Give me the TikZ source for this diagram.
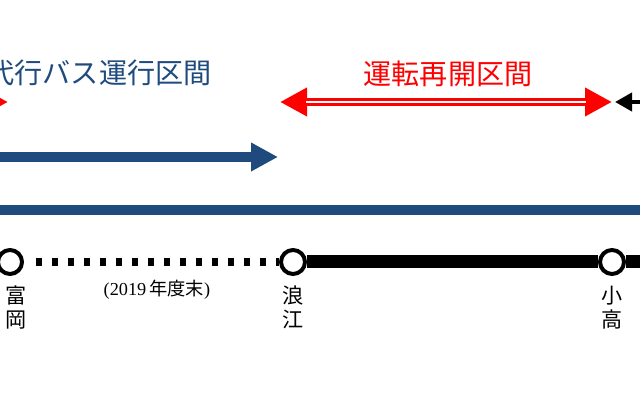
\documentclass[tikz,border=0pt]{standalone}
\usepackage{fontspec}
\newfontfamily\jpfont{Noto Sans CJK JP}
\newfontfamily\numfont{Liberation Serif}
\usepackage{tikz}
\usetikzlibrary{arrows.meta,positioning}
\definecolor{busblue}{HTML}{1F4A7E}
\definecolor{resumered}{HTML}{FF0000}

\begin{document}
\begin{tikzpicture}[
  title/.style={font=\jpfont\fontsize{20}{24}\selectfont,inner sep=0pt},
  station/.style={circle,draw=black,fill=white,line width=1mm,minimum size=6mm,inner sep=0pt},
  stname/.style={font=\jpfont\fontsize{15}{17}\selectfont,align=center,inner sep=0pt},
  bigtip/.tip={Triangle[length=6.75mm,width=6.75mm]},
]
\clip (0,0) rectangle (16,10);

% ===================================================================
% Section titles
% ===================================================================
\node[title,text=busblue] (bustitle) at (2.475,8.175) {代行バス運行区間};
\node[title,text=resumered] (resumetitle) at (11.2,8.15) {運転再開区間};

% ===================================================================
% Span arrows
% ===================================================================
\coordinate (prevL) at (-2.5,7.45);
\coordinate (prevR) at (0.2,7.45);
\coordinate (resumeL) at (7.0,7.45);
\coordinate (resumeR) at (15.3,7.45);
\coordinate (nextL) at (15.375,7.45);
\coordinate (nextR) at (17,7.45);

% red double arrows (outer red, white core)
\draw[resumered,line width=2mm,{bigtip}-{bigtip}] (prevL) -- (prevR);
\draw[white,line width=0.5mm,shorten >=6.5mm] (prevL) -- (prevR);
\draw[resumered,line width=2mm,{bigtip}-{bigtip}] (resumeL) -- (resumeR);
\draw[white,line width=0.5mm,shorten <=6.5mm,shorten >=6.5mm] (resumeL) -- (resumeR);

% black arrow at right edge
\draw[line width=1mm,{Triangle[length=4.25mm,width=4.5mm]}-] (nextL) -- (nextR);

% bus arrow and bus line
\coordinate (busL) at (-1,6.075);
\coordinate (busR) at (6.95,6.075);
\draw[busblue,line width=2.5mm,-{bigtip}] (busL) -- (busR);
\coordinate (routeL) at (-1,4.75);
\coordinate (routeR) at (17,4.75);
\draw[busblue,line width=2.5mm] (routeL) -- (routeR);

% ===================================================================
% Rail line and stations
% ===================================================================
\node[station] (tomioka) at (0.25,3.45) {};
\node[station] (namie) at (7.325,3.45) {};
\node[station] (odaka) at (15.3,3.45) {};
\coordinate (railR) at (17,3.45);

\draw[line width=2mm,dash pattern=on 1.6mm off 2.4mm,shorten <=3mm] (tomioka) -- (namie);
\draw[line width=3.25mm] (namie) -- (odaka);
\draw[line width=3.25mm] (odaka) -- (railR);

\node[stname,below=2.5mm of tomioka,xshift=1.5mm] (tomiokalbl) {富\\岡};
\node[stname,below=2.5mm of namie] (namielbl) {浪\\江};
\node[stname,below=2.5mm of odaka] (odakalbl) {小\\高};

\node[font=\fontsize{13}{15}\selectfont] (yearnote) at (3.925,2.75)
  {\numfont(2019\,\jpfont 年度末\numfont)};

\end{tikzpicture}
\end{document}
